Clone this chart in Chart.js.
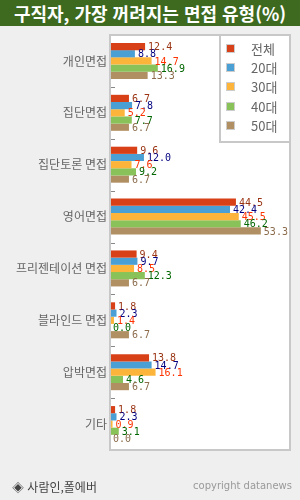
<!DOCTYPE html>
<html lang="ko">
<head>
<meta charset="utf-8">
<script src="https://cdn.jsdelivr.net/npm/chart.js@4.4.1/dist/chart.umd.min.js"></script>
<style>
  html, body { margin: 0; padding: 0; background: #efefef; }
  #wrap { position: relative; width: 300px; height: 500px; overflow: hidden; background: #efefef; }
  #title {
    position: absolute; left: 0; top: 0; width: 300px; height: 26px;
    background: #3d6a1f; color: #fff; text-align: center;
    font: bold 18px "Noto Sans CJK KR", sans-serif; line-height: 26px;
  }
  #source { position: absolute; left: 12px; top: 478px; font: 12px "Noto Sans CJK KR", sans-serif; color: #444; }
  #copy { position: absolute; right: 8px; top: 480px; font: 10px "DejaVu Sans", sans-serif; color: #999; }
  #chart { position: absolute; left: 0; top: 0; }
</style>
</head>
<body>
<div id="wrap">
  <canvas id="chart" width="300" height="500"></canvas>
  <div id="title">구직자, 가장 꺼려지는 면접 유형(%)</div>
  <div id="source">◈ 사람인,폴에버</div>
  <div id="copy">copyright datanews</div>
</div>
<script>
const categories = ['개인면접', '집단면접', '집단토론 면접', '영어면접', '프리젠테이션 면접', '블라인드 면접', '압박면접', '기타'];
const seriesNames = ['전체', '20대', '30대', '40대', '50대'];
const total = [12.4, 6.7, 9.6, 44.5, 9.4, 1.8, 13.8, 1.8];
const age20 = [8.8, 7.8, 12.0, 42.4, 9.7, 2.3, 14.7, 2.3];
const age30 = [14.7, 5.2, 7.6, 45.5, 8.5, 1.4, 16.1, 0.9];
const age40 = [16.9, 7.7, 9.2, 46.2, 12.3, 0.0, 4.6, 3.1];
const age50 = [13.3, 6.7, 6.7, 53.3, 6.7, 6.7, 6.7, 0.0];

const barColors = ['#d84118', '#4aa0d4', '#fcb53a', '#88c258', '#b08f62'];
const labelColors = ['#993311', '#000080', '#ff3300', '#006600', '#8b6b4b'];

// white plot box with grey frame + small ticks between categories
const plotBox = {
  id: 'plotBox',
  beforeDraw(chart) {
    const { ctx, chartArea: a } = chart;
    ctx.save();
    ctx.fillStyle = '#fff';
    ctx.fillRect(a.left, a.top, a.right - a.left, a.bottom - a.top);
    ctx.restore();
  },
  afterDraw(chart) {
    const { ctx, chartArea: a, scales } = chart;
    ctx.save();
    ctx.strokeStyle = '#c8c8c8';
    ctx.lineWidth = 2;
    ctx.strokeRect(a.left, a.top, a.right - a.left, a.bottom - a.top);
    ctx.strokeStyle = '#888';
    ctx.lineWidth = 1;
    const y = scales.y;
    for (let i = 1; i < categories.length; i++) {
      const py = Math.round((y.getPixelForValue(i - 1) + y.getPixelForValue(i)) / 2) + 0.5;
      ctx.beginPath();
      ctx.moveTo(a.left + 1, py);
      ctx.lineTo(a.left + 5, py);
      ctx.stroke();
    }
    // legend box in the top right corner
    const lx = 220, ly = 35, lw = 70, lh = 107;
    ctx.fillStyle = '#fff';
    ctx.fillRect(lx, ly, lw, lh);
    ctx.strokeStyle = '#c8c8c8';
    ctx.lineWidth = 2;
    ctx.strokeRect(lx, ly, lw, lh);
    ctx.font = '13px "Noto Sans CJK KR", sans-serif';
    ctx.textBaseline = 'middle';
    ctx.textAlign = 'left';
    chart.data.datasets.forEach((ds, i) => {
      const cy = 48 + i * 19.2;
      ctx.fillStyle = ds.backgroundColor;
      ctx.fillRect(227, Math.round(cy) - 3, 7, 7);
      ctx.strokeStyle = '#ccc';
      ctx.lineWidth = 1;
      ctx.strokeRect(226.5, Math.round(cy) - 3.5, 8, 8);
      ctx.fillStyle = '#666';
      ctx.fillText(ds.label, 251, cy + 1);
    });
    ctx.restore();
  }
};

const valueLabels = {
  id: 'valueLabels',
  afterDatasetsDraw(chart) {
    const { ctx } = chart;
    ctx.save();
    ctx.font = '10px "DejaVu Sans Mono", monospace';
    ctx.textBaseline = 'middle';
    ctx.textAlign = 'left';
    chart.data.datasets.forEach((ds, i) => {
      const meta = chart.getDatasetMeta(i);
      ctx.fillStyle = labelColors[i];
      meta.data.forEach((el, j) => {
        ctx.fillText(ds.data[j].toFixed(1), el.x + 3, el.y + 1);
      });
    });
    ctx.restore();
  }
};

const seriesData = [total, age20, age30, age40, age50];

new Chart(document.getElementById('chart'), {
  type: 'bar',
  data: {
    labels: categories,
    datasets: seriesData.map((d, i) => ({
      label: seriesNames[i],
      data: d,
      backgroundColor: barColors[i],
      borderWidth: 0,
      categoryPercentage: 0.694,
      barPercentage: 1
    }))
  },
  options: {
    indexAxis: 'y',
    responsive: false,
    animation: false,
    layout: { padding: { top: 35, right: 10, bottom: 50, left: 0 } },
    plugins: {
      legend: { display: false },
      tooltip: { enabled: false }
    },
    scales: {
      x: { display: false, min: 0, max: 63.6 },
      y: {
        afterFit(scale) { scale.width = 110; },
        grid: { display: false, drawTicks: false },
        border: { display: false },
        ticks: {
          padding: 3,
          color: '#666',
          font: { family: '"Noto Sans CJK KR", sans-serif', size: 12 }
        }
      }
    }
  },
  plugins: [plotBox, valueLabels]
});
</script>
</body>
</html>
